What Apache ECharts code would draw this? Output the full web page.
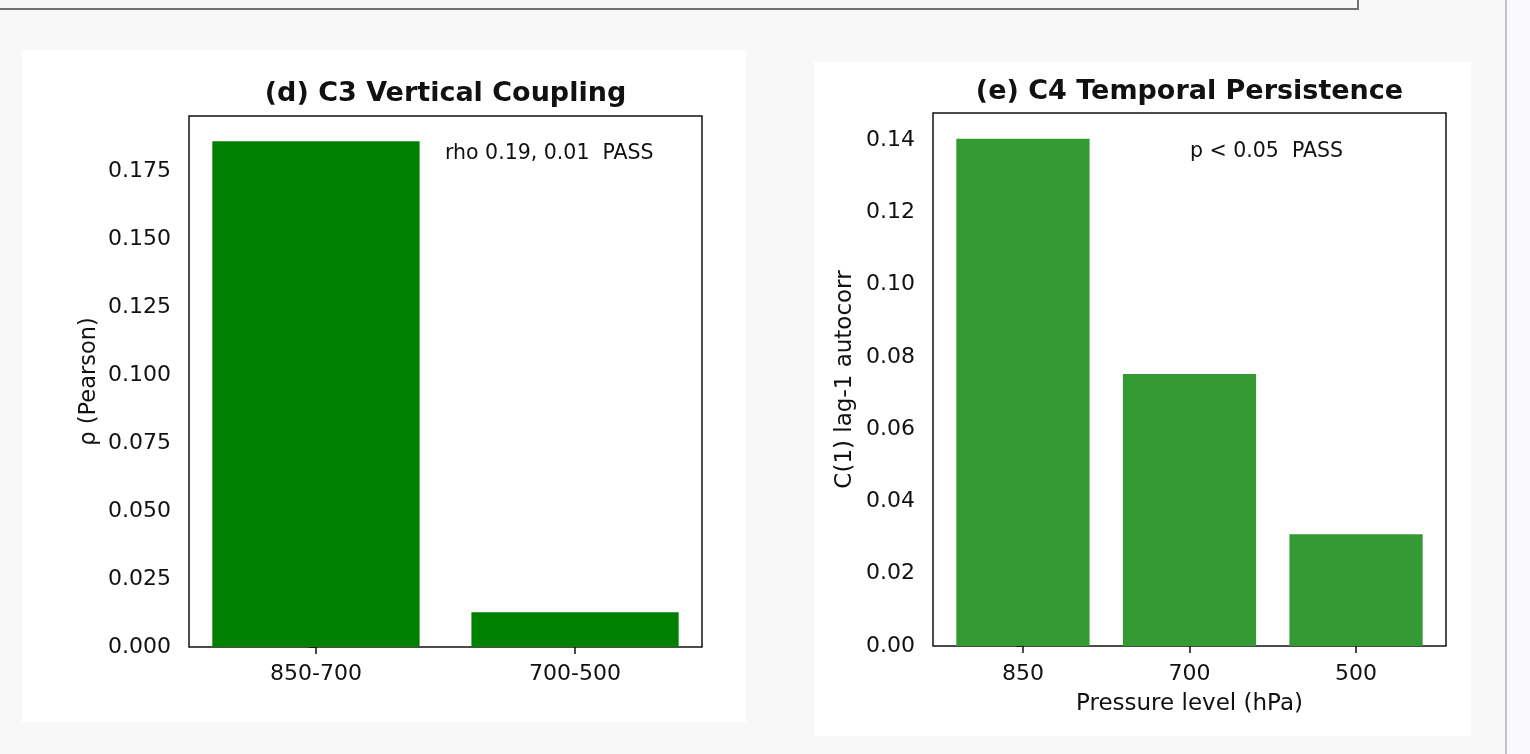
<!DOCTYPE html>
<html lang="en">
<head>
    <meta charset="UTF-8">
    <title>C3 / C4 diagnostics</title>
    <script src="https://cdn.jsdelivr.net/npm/echarts@6/dist/echarts.min.js"></script>
    <style>
        html, body { margin: 0; padding: 0; width: 1530px; height: 754px; overflow: hidden; background: #f8f8f8; }
        .topbox { position: absolute; left: -2px; top: -2px; width: 1359px; height: 10px;
                  border-right: 2px solid #707070; border-bottom: 2px solid #707070; background: #f7f7f7; }
        .panel { position: absolute; background: #ffffff; }
        .scroll { position: absolute; left: 1505px; top: 0; width: 25px; height: 754px;
                  border-left: 2px solid #c4c4c4; background: #f9f9fb; }
        #main { position: absolute; left: 0; top: 0; width: 1530px; height: 754px; }
    </style>
</head>
<body>
<div class="topbox"></div>
<div class="panel" style="left:22px; top:50px; width:724px; height:672px;"></div>
<div class="panel" style="left:814px; top:62px; width:657px; height:674px;"></div>
<div class="scroll"></div>
<div id="main"></div>
<script type="text/javascript">
    // (d) C3 vertical coupling
    var pairLabels = ['850-700', '700-500'];
    var pairRho = [0.186, 0.0128];
    var rhoTicks = [0, 0.025, 0.05, 0.075, 0.1, 0.125, 0.15, 0.175];

    // (e) C4 temporal persistence
    var levelLabels = ['850', '700', '500'];
    var levelLag1 = [0.1404, 0.0753, 0.0309];
    var lagTicks = [0, 0.02, 0.04, 0.06, 0.08, 0.10, 0.12, 0.14];

    var titleD = '(d) C3 Vertical Coupling';
    var titleE = '(e) C4 Temporal Persistence';
    var noteD = 'rho 0.19, 0.01  PASS';
    var noteE = 'p < 0.05  PASS';

    var FONT = 'DejaVu Sans';

    function idx(arr) {
        return arr.map(function (v, i) { return i; });
    }
    function pts(vals) {
        return vals.map(function (v, i) { return [i, v]; });
    }
    function xAx(gridIndex, labels, pad, margin, name) {
        return {
            type: 'value', gridIndex: gridIndex,
            min: -0.4 - pad, max: labels.length - 0.6 + pad,
            name: name || '', nameLocation: 'middle', nameGap: 47,
            nameTextStyle: { fontFamily: FONT, fontSize: 23, color: '#111' },
            splitLine: { show: false },
            axisLine: { show: false },
            axisTick: { show: true, inside: false, length: 7, customValues: idx(labels),
                        lineStyle: { color: '#111', width: 1.5 } },
            axisLabel: { show: true, customValues: idx(labels), margin: margin,
                         fontFamily: FONT, fontSize: 22, color: '#111',
                         formatter: function (v) { return labels[Math.round(v)]; } }
        };
    }
    function yAx(gridIndex, ticks, max, digits, name, gap, nameSize) {
        return {
            type: 'value', gridIndex: gridIndex, min: 0, max: max,
            name: name, nameLocation: 'middle', nameGap: gap, nameRotate: 90,
            nameTextStyle: { fontFamily: FONT, fontSize: nameSize, color: '#111' },
            splitLine: { show: false },
            axisLine: { show: false },
            axisTick: { show: true, inside: false, length: 7, customValues: ticks,
                        lineStyle: { color: '#111', width: 1.5 } },
            axisLabel: { show: true, customValues: ticks, margin: 18,
                         fontFamily: FONT, fontSize: 22, color: '#111',
                         formatter: function (v) { return v.toFixed(digits); } }
        };
    }

    var chart = echarts.init(document.getElementById('main'), null, { renderer: 'canvas' });
    var option = {
        backgroundColor: 'transparent',
        animation: false,
        title: [
            { text: titleD, left: 445.5, top: 80, textAlign: 'center', padding: 0,
              textStyle: { fontFamily: FONT, fontSize: 27, fontWeight: 'bold', color: '#111' } },
            { text: titleE, left: 1189.5, top: 78, textAlign: 'center', padding: 0,
              textStyle: { fontFamily: FONT, fontSize: 27, fontWeight: 'bold', color: '#111' } },
            { text: noteD, left: 445, top: 143, padding: 0,
              textStyle: { fontFamily: FONT, fontSize: 20.5, fontWeight: 'normal', color: '#111' } },
            { text: noteE, left: 1190, top: 141, padding: 0,
              textStyle: { fontFamily: FONT, fontSize: 20.5, fontWeight: 'normal', color: '#111' } }
        ],
        grid: [
            { left: 189, top: 116, width: 513, height: 531, show: true,
              backgroundColor: '#fff', borderColor: '#111', borderWidth: 1.5 },
            { left: 933, top: 113, width: 513, height: 533, show: true,
              backgroundColor: '#fff', borderColor: '#111', borderWidth: 1.5 }
        ],
        xAxis: [
            xAx(0, pairLabels, 0.09, 16),
            xAx(1, levelLabels, 0.14, 17, 'Pressure level (hPa)')
        ],
        yAxis: [
            yAx(0, rhoTicks, 0.1953, 3, 'ρ (Pearson)', 88, 22.5),
            yAx(1, lagTicks, 0.1475, 2, 'C(1) lag-1 autocorr', 76, 23)
        ],
        series: [
            { type: 'bar', xAxisIndex: 0, yAxisIndex: 0, data: pts(pairRho),
              barWidth: '80%', itemStyle: { color: '#008000' }, silent: true },
            { type: 'bar', xAxisIndex: 1, yAxisIndex: 1, data: pts(levelLag1),
              barWidth: '80%', itemStyle: { color: '#339933' }, silent: true }
        ]
    };
    chart.setOption(option);
</script>
</body>
</html>
